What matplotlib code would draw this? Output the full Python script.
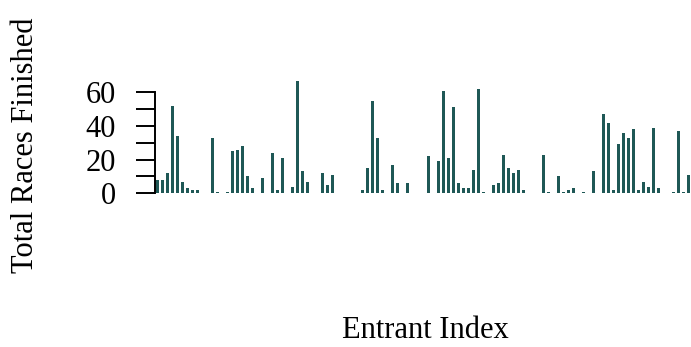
import matplotlib.pyplot as plt

plt.rcParams['font.family'] = ['Liberation Serif', 'DejaVu Serif']

# races finished per entrant
races = [8, 8, 12, 52, 34, 7, 3, 2, 2, 0,
         0, 33, 1, 0, 1, 25, 26, 28, 10, 3,
         0, 9, 0, 24, 2, 21, 0, 4, 67, 13,
         7, 0, 0, 12, 5, 11, 0, 0, 0, 0,
         0, 2, 15, 55, 33, 2, 0, 17, 6, 0,
         6, 0, 0, 0, 22, 0, 19, 61, 21, 51,
         6, 3, 3, 14, 62, 1, 0, 5, 6, 23,
         15, 12, 14, 2, 0, 0, 0, 23, 1, 0,
         10, 1, 2, 3, 0, 1, 0, 13, 0, 47,
         42, 2, 29, 36, 33, 38, 2, 7, 4, 39,
         3, 0, 0, 1, 37, 1, 11]
idx = list(range(len(races)))
yticks = [0, 10, 20, 30, 40, 50, 60]
ylabels = ['0', '', '20', '', '40', '', '60']

W, H = 691, 347
fig = plt.figure(figsize=(W/100, H/100), dpi=100)
# plot region in pixels: left 155, right 695, top 60, bottom 230
ax = fig.add_axes([155/W, 1-230/H, 540/W, 170/H])
ax.bar(idx, races, width=0.6, color='#1f5856')

ax.set_xlim(-0.4, 107.2)
ax.set_ylim(-21.8, 79.2)
for s in ['top', 'right', 'bottom']:
    ax.spines[s].set_visible(False)
ax.spines['left'].set_bounds(0, 60)
ax.spines['left'].set_linewidth(1.4)
ax.set_xticks([])
ax.set_yticks(yticks)
ax.set_yticklabels(ylabels)
ax.tick_params(axis='y', length=14, width=1.4, pad=14, labelsize=22)

fig.text(425/W, 1-331/H, 'Entrant Index', ha='center', va='center', fontsize=22)
fig.text(26/W, 1-145/H, 'Total Races Finished', ha='center', va='center',
         rotation=90, fontsize=22)

fig.savefig('out.png', dpi=100)
